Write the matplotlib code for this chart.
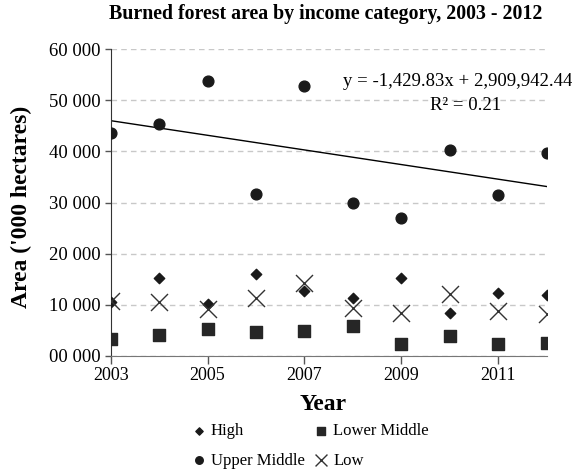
import numpy as np
import matplotlib
matplotlib.use('Agg')
import matplotlib.pyplot as plt
from matplotlib.ticker import FuncFormatter

plt.rcParams['font.family'] = ['Liberation Serif', 'DejaVu Serif']

years = np.arange(2003, 2013)

# Burned area ('000 ha) by income group
high = [10600, 15200, 10100, 16100, 12800, 11300, 15300, 8500, 12400, 12000]
upper_middle = [43500, 45300, 53800, 31700, 52700, 29900, 26900, 40200, 31500, 39700]
low = [10700, 10500, 9100, 11300, 14200, 9300, 8500, 12200, 8800, 8300]
lower_middle = [3400, 4200, 5300, 4600, 4900, 5900, 2400, 4000, 2300, 2500]

# trend line for upper middle, as printed on the chart
slope = -1429.83
intercept = 2909942.44
r2 = 0.21

W, H = 572, 473
fig = plt.figure(figsize=(W / 100, H / 100), dpi=100)
ax = fig.add_axes([110.7 / W, 1 - 356 / H, 436 / W, 307 / H])

mk = '#1a1a1a'
ax.scatter(years, high, marker='D', s=28, color=mk, label='High', zorder=3)
ax.scatter(years, upper_middle, marker='o', s=60, color=mk, label='Upper Middle', zorder=3)
ax.scatter(years, lower_middle, marker='s', s=64, color='#262626', label='Lower Middle', zorder=3)
ax.scatter(years, low, marker='x', s=150, color='#333333', linewidths=1.0, label='Low', zorder=4)

xs = np.array([2003, 2012])
ax.plot(xs, slope * xs + intercept, color='black', lw=1.0, zorder=2)

ax.text(572 / W, 1 - 81.7 / H, f'y = {slope:,.2f}x + {intercept:,.2f}', transform=fig.transFigure,
        ha='right', va='center', fontsize=13.5)
ax.text(466 / W, 1 - 105 / H, f'R\u00b2 = {r2:.2f}', transform=fig.transFigure,
        ha='center', va='center', fontsize=13.5)

ax.set_xlim(2003, 2012)
ax.set_ylim(0, 60000)
ax.set_xticks([2003, 2005, 2007, 2009, 2011])
ax.set_yticks(np.arange(0, 60001, 10000))
ax.yaxis.set_major_formatter(FuncFormatter(lambda v, p: f'{int(v) // 1000:02d} 000'))
ax.tick_params(axis='both', labelsize=13, color='#555555', length=4, width=1, direction='out')
ax.tick_params(axis='y', labelsize=13.5, pad=3)
ax.tick_params(axis='x', length=6, pad=2)

ax.grid(axis='y', linestyle=(0, (4, 3)), color='#c8c8c8', lw=1)
ax.set_axisbelow(True)
for s in ['top', 'right']:
    ax.spines[s].set_visible(False)
ax.spines['left'].set_color('#333333')
ax.spines['bottom'].set_color('#777777')

fig.text(325.5 / W, 1 - 14 / H, 'Burned forest area by income category, 2003 - 2012',
         ha='center', va='center', fontsize=14.3, fontweight='bold')
ax.set_xlabel('Year', fontsize=17, fontweight='bold')
ax.xaxis.set_label_coords((323 - 110.7) / 436, -(405 - 356) / 307)
ax.xaxis.label.set_va('center')
ax.set_ylabel("Area ('000 hectares)", fontsize=17, fontweight='bold')
ax.yaxis.set_label_coords((21 - 110.7) / 436, (356 - 207) / 307)
ax.yaxis.label.set_va('center')

h, l = ax.get_legend_handles_labels()
leg = fig.legend(h, l, ncol=2, loc='center', bbox_to_anchor=(309 / W, 1 - 446 / H), frameon=False,
                 fontsize=12, handletextpad=0.1, columnspacing=0.4, markerscale=0.7,
                 handlelength=1.2, labelspacing=0.8)

fig.savefig('out.png', dpi=100)
